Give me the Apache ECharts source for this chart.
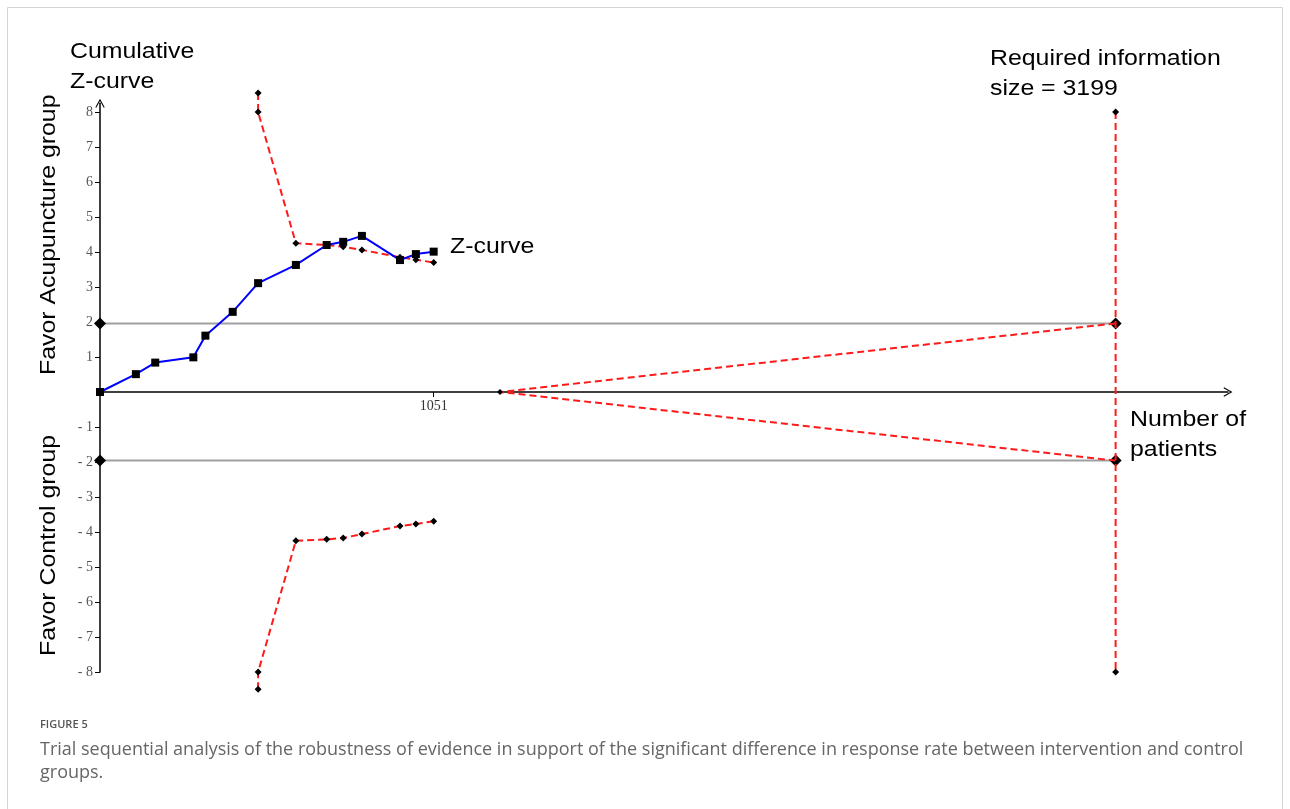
<!DOCTYPE html>
<html>
<head>
<meta charset="utf-8">
<script src="https://cdn.jsdelivr.net/npm/echarts@6/dist/echarts.min.js"></script>
<style>
  html, body { margin: 0; padding: 0; background: #fff; }
  #chart { width: 1290px; height: 809px; }
</style>
</head>
<body>
<div id="chart"></div>
<script>
// cumulative z-curve (number of patients, z value)
var zPatients = [0, 113, 174, 294, 332, 418, 498, 617, 714, 766, 825, 945, 995, 1051];
var zValues = [0, 0.51, 0.84, 0.99, 1.61, 2.29, 3.11, 3.63, 4.2, 4.29, 4.46, 3.77, 3.94, 4.01];
// trial sequential monitoring boundaries
var boundPatients = [498, 498, 617, 714, 766, 825, 945, 995, 1051];
var upperBound = [8.54, 8, 4.25, 4.2, 4.15, 4.06, 3.85, 3.78, 3.7];
var lowerBound = [-8.49, -8, -4.25, -4.21, -4.17, -4.06, -3.83, -3.77, -3.69];
// conventional boundary, futility wedge, required information size
var convZ = 1.96;
var futilityStart = 1260;
var ris = 3199;
var risZ = [8, -8];
var yTicks = [-8, -7, -6, -5, -4, -3, -2, -1, 1, 2, 3, 4, 5, 6, 7, 8];
var xTicks = [1051];

var zip = function (xs, ys) { return xs.map(function (x, i) { return [x, ys[i]]; }); };
var chevron = 'path://M0,9 L5,0 L10,9 L9,9.6 L5,2.4 L1,9.6 Z';
var red = '#ff1a1a';
var dash = [7, 4];

var myChart = echarts.init(document.getElementById('chart'));
var option = {
    animation: false,
    grid: { left: 100, right: 62, top: 103.25, bottom: 137 },
    xAxis: {
        type: 'value',
        min: 0,
        max: 3553,
        axisLine: {
            onZero: true,
            symbol: ['none', chevron],
            symbolSize: [10, 9],
            lineStyle: { color: '#000', width: 1.5 }
        },
        axisTick: { customValues: xTicks, length: 5, lineStyle: { color: '#000' } },
        axisLabel: {
            customValues: xTicks,
            formatter: function (v) { return String(v); },
            fontFamily: 'Liberation Serif',
            fontSize: 14,
            color: '#333',
            margin: -273
        },
        splitLine: { show: false }
    },
    yAxis: {
        type: 'value',
        min: -8,
        max: 8.25,
        axisLine: {
            show: true,
            onZero: false,
            symbol: ['none', chevron],
            symbolSize: [10, 9],
            lineStyle: { color: '#000', width: 1.5 }
        },
        axisTick: { show: true, customValues: yTicks, length: 5, lineStyle: { color: '#000' } },
        axisLabel: {
            customValues: yTicks,
            formatter: function (v) { return v < 0 ? '- ' + (-v) : String(v); },
            fontFamily: 'Liberation Serif',
            fontSize: 14,
            color: '#555',
            margin: 7
        },
        splitLine: { show: false }
    },
    series: [
        {
            name: 'conventional upper',
            type: 'line',
            data: [[0, convZ], [ris, convZ]],
            lineStyle: { color: '#a0a0a0', width: 2 },
            symbol: 'diamond', symbolSize: 12,
            itemStyle: { color: '#000' },
            z: 1
        },
        {
            name: 'conventional lower',
            type: 'line',
            data: [[0, -convZ], [ris, -convZ]],
            lineStyle: { color: '#a0a0a0', width: 2 },
            symbol: 'diamond', symbolSize: 12,
            itemStyle: { color: '#000' },
            z: 1
        },
        {
            name: 'futility',
            type: 'line',
            data: [
                { value: [ris, convZ], symbol: 'none' },
                [futilityStart, 0],
                { value: [ris, -convZ], symbol: 'none' }
            ],
            lineStyle: { color: red, width: 2, type: dash },
            symbol: 'diamond', symbolSize: 6,
            itemStyle: { color: '#000' },
            z: 2
        },
        {
            name: 'RIS',
            type: 'line',
            data: [[ris, risZ[0]], [ris, risZ[1]]],
            lineStyle: { color: red, width: 2, type: dash },
            symbol: 'diamond', symbolSize: 7,
            itemStyle: { color: '#000' },
            z: 2
        },
        {
            name: 'upper boundary',
            type: 'line',
            clip: false,
            data: zip(boundPatients, upperBound),
            lineStyle: { color: red, width: 2, type: dash },
            symbol: 'diamond', symbolSize: 7,
            itemStyle: { color: '#000' },
            z: 3
        },
        {
            name: 'lower boundary',
            type: 'line',
            clip: false,
            data: zip(boundPatients, lowerBound),
            lineStyle: { color: red, width: 2, type: dash },
            symbol: 'diamond', symbolSize: 7,
            itemStyle: { color: '#000' },
            z: 3
        },
        {
            name: 'Z-curve',
            type: 'line',
            data: zip(zPatients, zValues),
            lineStyle: { color: '#0000ff', width: 2 },
            symbol: 'rect', symbolSize: 8,
            itemStyle: { color: '#000' },
            z: 4
        }
    ],
    graphic: [
        {
            type: 'rect', silent: true,
            shape: { x: 7.5, y: 7.5, width: 1275, height: 830 },
            style: { fill: 'none', stroke: '#d4d4d4', lineWidth: 1 }
        },
        {
            type: 'text', left: 70, top: 37, scaleX: 1.13,
            style: { text: 'Cumulative\nZ-curve', font: '22px "Liberation Sans"', fill: '#000', lineHeight: 30 }
        },
        {
            type: 'text', left: 990, top: 44, scaleX: 1.13,
            style: { text: 'Required information\nsize = 3199', font: '22px "Liberation Sans"', fill: '#000', lineHeight: 30 }
        },
        {
            type: 'text', left: 450, top: 236, scaleX: 1.13,
            style: { text: 'Z-curve', font: '22px "Liberation Sans"', fill: '#000' }
        },
        {
            type: 'text', left: 1130, top: 405, scaleX: 1.13,
            style: { text: 'Number of\npatients', font: '22px "Liberation Sans"', fill: '#000', lineHeight: 30 }
        },
        {
            type: 'text', x: 38, y: 375, rotation: Math.PI / 2, scaleX: 1.13,
            style: { text: 'Favor Acupuncture group', font: '22px "Liberation Sans"', fill: '#000' }
        },
        {
            type: 'text', x: 38, y: 656, rotation: Math.PI / 2, scaleX: 1.13,
            style: { text: 'Favor Control group', font: '22px "Liberation Sans"', fill: '#000' }
        },
        {
            type: 'text', left: 40, top: 719,
            style: { text: 'FIGURE 5', font: '600 11px "Open Sans"', fill: '#555' }
        },
        {
            type: 'text', left: 40, top: 738,
            style: {
                text: 'Trial sequential analysis of the robustness of evidence in support of the significant difference in response rate between intervention and control\ngroups.',
                font: '18px "Open Sans"', fill: '#666', lineHeight: 23
            }
        }
    ]
};
myChart.setOption(option);
</script>
</body>
</html>
